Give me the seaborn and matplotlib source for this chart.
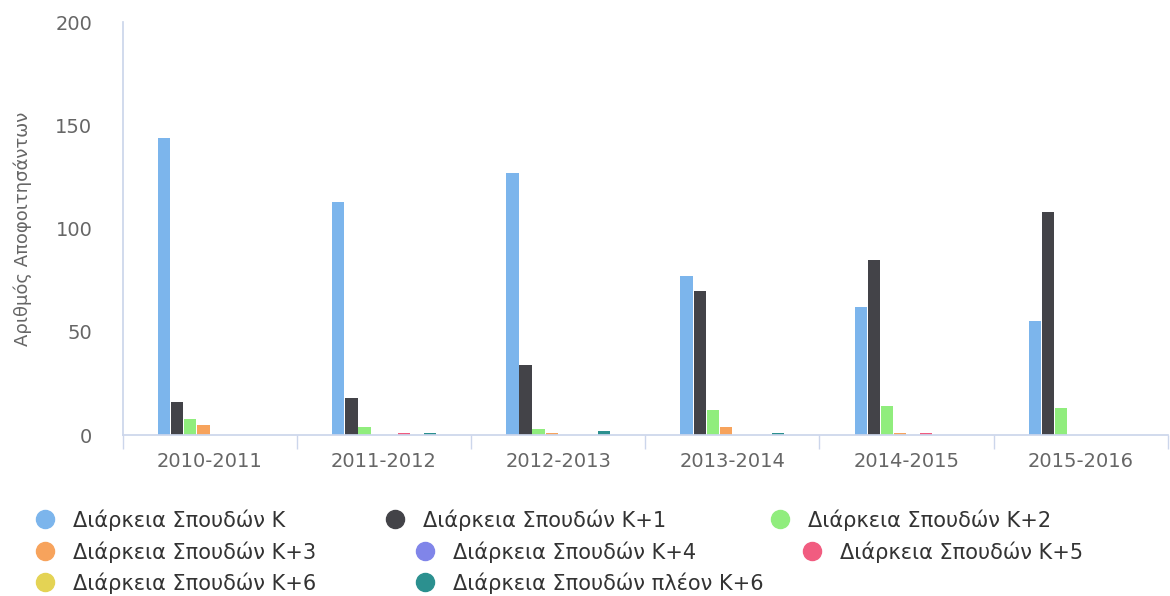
import numpy as np
import pandas as pd
import matplotlib
matplotlib.use("Agg")
import matplotlib.pyplot as plt
from matplotlib.lines import Line2D
import seaborn as sns

sns.set_theme(style="white")
plt.rcParams['font.family'] = ['DejaVu Sans']

years = ["2010-2011", "2011-2012", "2012-2013", "2013-2014", "2014-2015", "2015-2016"]
series = ["Διάρκεια Σπουδών Κ", "Διάρκεια Σπουδών Κ+1", "Διάρκεια Σπουδών Κ+2",
          "Διάρκεια Σπουδών Κ+3", "Διάρκεια Σπουδών Κ+4", "Διάρκεια Σπουδών Κ+5",
          "Διάρκεια Σπουδών Κ+6", "Διάρκεια Σπουδών πλέον Κ+6"]
colors = ["#7cb5ec", "#434348", "#90ed7d", "#f7a35c", "#8085e9", "#f15c80", "#e4d354", "#2b908f"]

k0 = [144, 113, 127, 77, 62, 55]
k1 = [16, 18, 34, 70, 85, 108]
k2 = [8, 4, 3, 12, 14, 13]
k3 = [5, 0, 1, 4, 1, 0]
k4 = [0, 0, 0, 0, 0, 0]
k5 = [0, 1, 0, 0, 1, 0]
k6 = [0, 0, 0, 0, 0, 0]
k7 = [0, 1, 2, 1, 0, 0]

values = [k0, k1, k2, k3, k4, k5, k6, k7]
rows = []
for name, vals in zip(series, values):
    for y, v in zip(years, vals):
        rows.append({"year": y, "series": name, "value": v})
df = pd.DataFrame(rows)

fig = plt.figure(figsize=(11.7, 5.96), dpi=100)
ax = fig.add_axes([0.105, 0.27, 0.893, 0.693])

sns.barplot(data=df, x="year", y="value", hue="series", hue_order=series,
            palette=colors, width=0.6, gap=0.06, saturation=1, linewidth=0,
            ax=ax, legend=False)

ax.set_xlim(-0.5, 5.5)
ax.set_ylim(0, 200)
ax.set_yticks([0, 50, 100, 150, 200])
ax.set_xlabel("")
ax.set_ylabel("Αριθμός Αποφοιτησάντων", color="#666666", fontsize=13, labelpad=17)

for s in ["top", "right"]:
    ax.spines[s].set_visible(False)
ax.spines["bottom"].set_color("#ccd6eb")
ax.spines["left"].set_color("#ccd6eb")

ax.tick_params(axis="y", length=0, labelsize=14, colors="#666666", pad=22)
ax.tick_params(axis="x", which="major", length=0, labelsize=14, colors="#666666", pad=12)
ax.set_xticks(np.arange(-0.5, 6, 1), minor=True)
ax.tick_params(axis="x", which="minor", bottom=True, length=10, color="#ccd6eb", width=1)

# legend items placed like the wrapped highcharts legend
item_pos = [(45, 520), (395, 520), (780, 520),
            (45, 552), (425, 552), (812, 552),
            (45, 583), (425, 583)]
fs = 15
half = fs * 100 / 72 / 2
for i, (px, py) in enumerate(item_pos):
    h = Line2D([0], [0], marker="o", linestyle="", markersize=13,
               markerfacecolor=colors[i], markeredgecolor=colors[i])
    leg = fig.legend([h], [series[i]], loc="center left",
                     bbox_to_anchor=((px - half) / 1170, 1 - py / 596),
                     frameon=False, fontsize=fs, handletextpad=0.85,
                     handlelength=1.0, borderpad=0, borderaxespad=0)
    for t in leg.get_texts():
        t.set_color("#333333")

fig.savefig("out.png", dpi=100)
